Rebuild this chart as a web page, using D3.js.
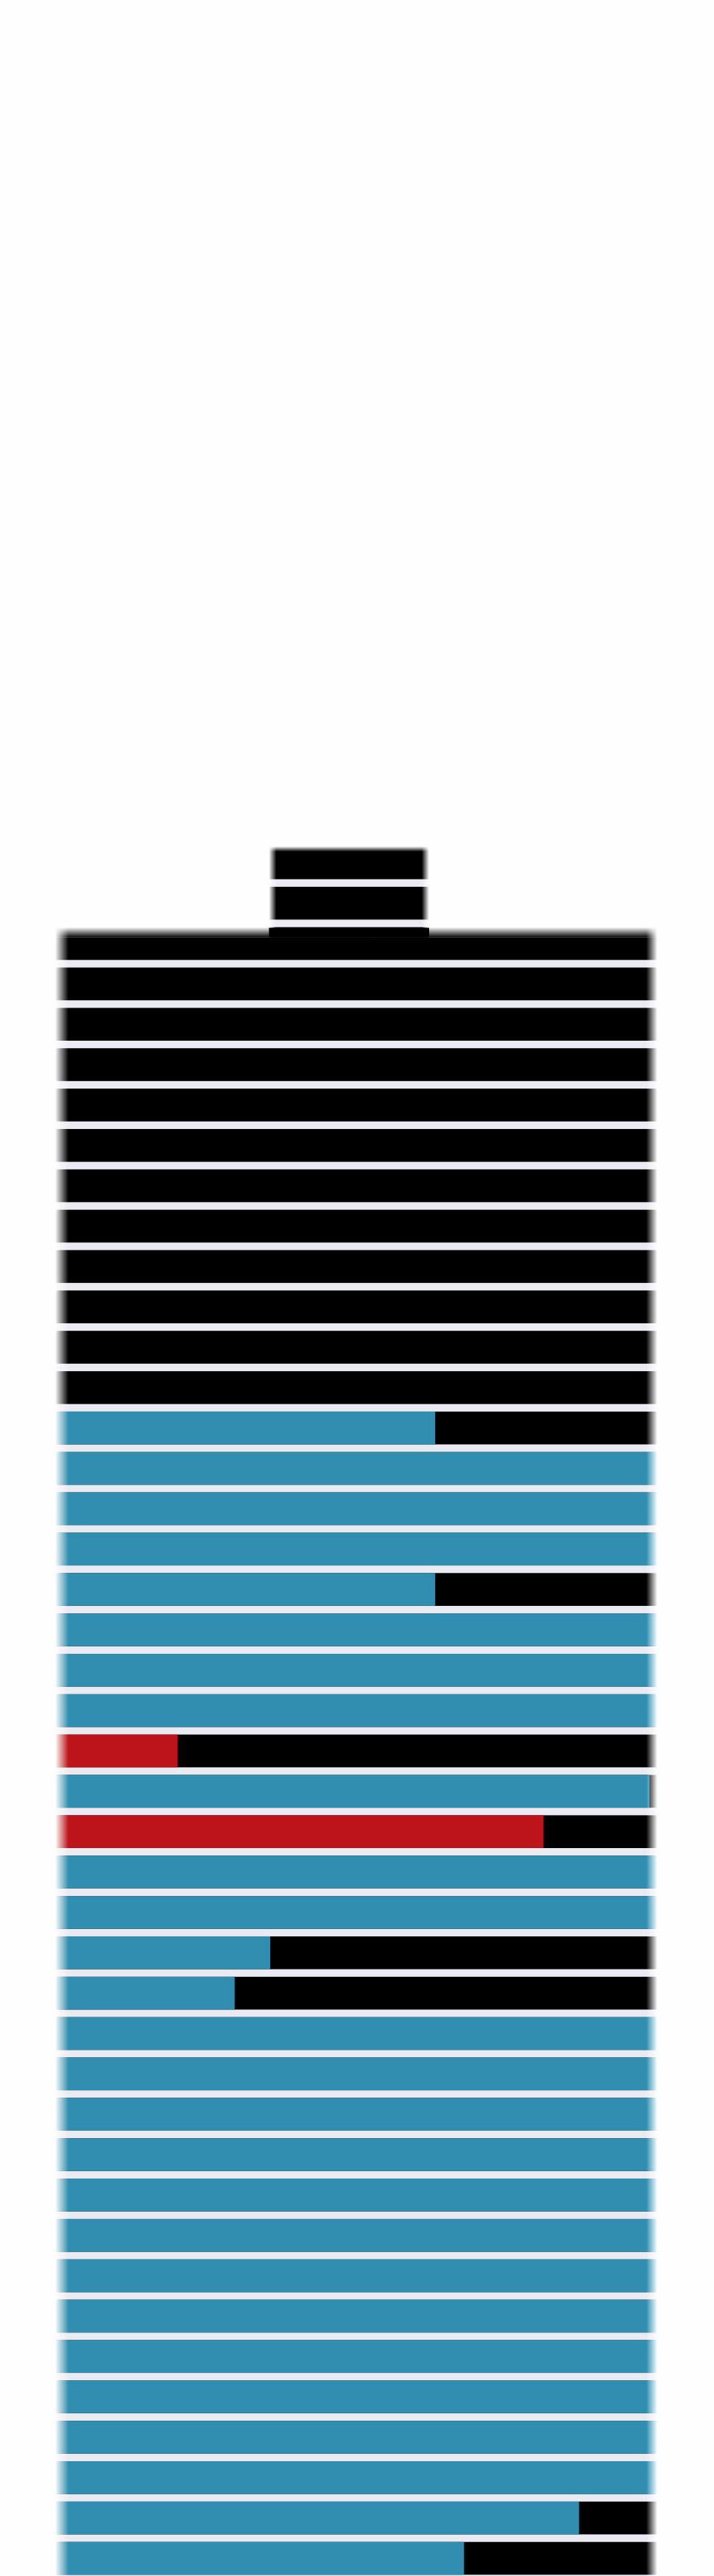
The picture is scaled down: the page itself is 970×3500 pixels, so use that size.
<!DOCTYPE html>
<html>
<head>
<meta charset="utf-8">
<script src="https://cdn.jsdelivr.net/npm/d3@7"></script>
<style>
html, body { margin: 0; padding: 0; background: #fefefe; }
svg { display: block; }
</style>
</head>
<body>
<script>
// ---- Data ----
const categories = ["R01","R02","R03","R04","R05","R06","R07","R08","R09","R10",
  "R11","R12","R13","R14","R15","R16","R17","R18","R19","R20",
  "R21","R22","R23","R24","R25","R26","R27","R28","R29","R30",
  "R31","R32","R33","R34","R35","R36","R37","R38","R39","R40",
  "R41","R42","R43"];
// start / end of each row on the value axis (0-100)
const rowStart = [35.5,35.5,0,0,0,0,0,0,0,0, 0,0,0,0,0,0,0,0,0,0, 0,0,0,0,0,0,0,0,0,0, 0,0,0,0,0,0,0,0,0,0, 0,0,0];
const rowEnd   = [62.1,62.1,100,100,100,100,100,100,100,100, 100,100,100,100,100,100,100,100,100,100, 100,100,100,100,100,100,100,100,100,100, 100,100,100,100,100,100,100,100,100,100, 100,100,100];
// coloured share of each row (value-axis units), rest is black
const coloredValue = [0,0,0,0,0,0,0,0,0,0, 0,0,0,0,63.1,100,100,100,63.1,100, 100,100,20.3,98.7,81.1,100,100,35.7,29.8,100, 100,100,100,100,100,100,100,100,100,100, 100,87.0,67.9];
const colorGroup = ["none","none","none","none","none","none","none","none","none","none",
  "none","none","none","none","blue","blue","blue","blue","blue","blue",
  "blue","blue","red","blue","red","blue","blue","blue","blue","blue",
  "blue","blue","blue","blue","blue","blue","blue","blue","blue","blue",
  "blue","blue","blue"];
const groupColors = { blue: "#318EB0", red: "#BC141A", none: "#000000" };
const restColor = "#000000";
const gapColor = "#EAEAF2";

// ---- Layout ----
const W = 970, H = 3500;
const rows = categories.map((c, i) => ({
  cat: c, lo: rowStart[i], hi: rowEnd[i], val: coloredValue[i], grp: colorGroup[i]
}));

const x = d3.scaleLinear().domain([0, 100]).range([75, 893]);
const y = d3.scaleBand().domain(categories).range([1150, 3498.3]).paddingInner(0.187).paddingOuter(0);

const svg = d3.select("body").append("svg")
  .attr("width", W).attr("height", H)
  .style("background", "#fefefe");

const defs = svg.append("defs");

function hGrad(id, a, b) {
  const g = defs.append("linearGradient").attr("id", id)
    .attr("x1", 0).attr("x2", 1).attr("y1", 0).attr("y2", 0);
  g.append("stop").attr("offset", 0).attr("stop-color", "#000");
  g.append("stop").attr("offset", a).attr("stop-color", "#fff");
  g.append("stop").attr("offset", b).attr("stop-color", "#fff");
  g.append("stop").attr("offset", 1).attr("stop-color", "#000");
}
function vGrad(id, a) {
  const g = defs.append("linearGradient").attr("id", id)
    .attr("x1", 0).attr("x2", 0).attr("y1", 0).attr("y2", 1);
  g.append("stop").attr("offset", 0).attr("stop-color", "#000");
  g.append("stop").attr("offset", a).attr("stop-color", "#fff");
  g.append("stop").attr("offset", 1).attr("stop-color", "#fff");
}

const wideX0 = x(0), wideX1 = x(100), wideW = wideX1 - wideX0;
const smallX0 = x(rowStart[0]), smallX1 = x(rowEnd[0]), smallW = smallX1 - smallX0;
const topSmall = y(categories[0]);
const topWide = y(categories[2]);

hGrad("gWide", 18 / wideW, 1 - 15 / wideW);
hGrad("gSmall", 10 / smallW, 1 - 10 / smallW);
vGrad("gTopWide", 1);
vGrad("gTopSmall", 7 / (topWide + 14 - topSmall));

// horizontal edge fade mask
const mh = defs.append("mask").attr("id", "mh")
  .attr("maskUnits", "userSpaceOnUse").attr("x", 0).attr("y", 0).attr("width", W).attr("height", H);
mh.append("rect").attr("x", wideX0).attr("y", topWide).attr("width", wideW).attr("height", H - topWide)
  .attr("fill", "url(#gWide)");
mh.append("rect").attr("x", smallX0).attr("y", topSmall).attr("width", smallW).attr("height", topWide - topSmall + 1)
  .attr("fill", "url(#gSmall)");

// vertical (top) edge fade mask
const mv = defs.append("mask").attr("id", "mv")
  .attr("maskUnits", "userSpaceOnUse").attr("x", 0).attr("y", 0).attr("width", W).attr("height", H);
mv.append("rect").attr("x", 0).attr("y", topWide).attr("width", W).attr("height", 14).attr("fill", "url(#gTopWide)");
mv.append("rect").attr("x", 0).attr("y", topWide + 14).attr("width", W).attr("height", H).attr("fill", "#fff");
mv.append("rect").attr("x", smallX0).attr("y", topSmall).attr("width", smallW).attr("height", topWide + 14 - topSmall)
  .attr("fill", "url(#gTopSmall)");

const outer = svg.append("g").attr("mask", "url(#mv)");
const plot = outer.append("g").attr("mask", "url(#mh)");

// row backgrounds (bar + gap below)
plot.selectAll("rect.bg").data(rows).join("rect")
  .attr("class", "bg")
  .attr("x", d => x(d.lo))
  .attr("y", d => y(d.cat))
  .attr("width", d => x(d.hi) - x(d.lo))
  .attr("height", y.step())
  .attr("fill", gapColor);

// black remainder (full row, drawn underneath)
plot.selectAll("rect.rest").data(rows).join("rect")
  .attr("class", "rest")
  .attr("x", d => x(d.lo))
  .attr("y", d => y(d.cat))
  .attr("width", d => x(d.hi) - x(d.lo))
  .attr("height", y.bandwidth())
  .attr("fill", restColor);

// coloured part
plot.selectAll("rect.part").data(rows.filter(d => d.val > 0)).join("rect")
  .attr("class", "part")
  .attr("x", d => x(d.lo))
  .attr("y", d => y(d.cat))
  .attr("width", d => x(d.lo + d.val) - x(d.lo))
  .attr("height", y.bandwidth())
  .attr("fill", d => groupColors[d.grp]);
</script>
</body>
</html>
